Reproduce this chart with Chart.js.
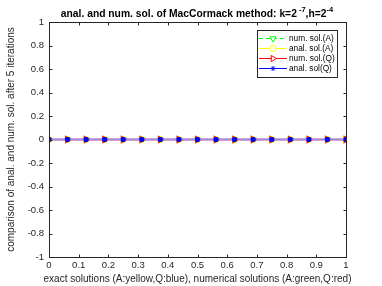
<!DOCTYPE html>
<html><head><meta charset="utf-8">
<script src="https://cdn.jsdelivr.net/npm/chart.js@4/dist/chart.umd.min.js"></script>
<style>html,body{margin:0;padding:0;background:#fff}#w{width:382px;height:286px}</style>
</head><body><div id="w"><canvas id="c" width="382" height="286"></canvas></div>
<script>
const xValues = [0, 0.0625, 0.125, 0.1875, 0.25, 0.3125, 0.375, 0.4375, 0.5, 0.5625, 0.625, 0.6875, 0.75, 0.8125, 0.875, 0.9375, 1];
const numSolA = [0,0,0,0,0,0,0,0,0,0,0,0,0,0,0,0,0];
const analSolA = [0,0,0,0,0,0,0,0,0,0,0,0,0,0,0,0,0];
const numSolQ = [0,0,0,0,0,0,0,0,0,0,0,0,0,0,0,0,0];
const analSolQ = [0,0,0,0,0,0,0,0,0,0,0,0,0,0,0,0,0];
const seriesNames = ['num. sol.(A)', 'anal. sol.(A)', 'num. sol.(Q)', 'anal. sol(Q)'];
const xTicks = [0,0.1,0.2,0.3,0.4,0.5,0.6,0.7,0.8,0.9,1];
const yTicks = [-1,-0.8,-0.6,-0.4,-0.2,0,0.2,0.4,0.6,0.8,1];
const titleText = ['anal. and num. sol. of MacCormack method: k=2', ' -7', ',h=2', '-4'];
const xTitle = 'exact solutions (A:yellow,Q:blue), numerical solutions (A:green,Q:red)';
const yTitle = 'comparison of anal. and num. sol. after 5 iterations';

const pts = arr => xValues.map((x,i)=>({x, y: arr[i]}));
const FONT = '"Liberation Sans", Arial, sans-serif';

const legendItems = [
  {name: seriesNames[0], color:'#00ff00', dash:[4,3], style:'triangle', rot:180, r:3.5, fill:false},
  {name: seriesNames[1], color:'#ffff00', dash:[], style:'circle', rot:0, r:3, fill:false},
  {name: seriesNames[2], color:'#ff0000', dash:[], style:'triangle', rot:90, r:3.5, fill:false},
  {name: seriesNames[3], color:'#0000ff', dash:[], style:'star', rot:0, r:2.5, fill:true}
];

const deco = {
  id:'deco',
  afterDraw(chart){
    const ctx = chart.ctx, a = chart.chartArea;
    const xs = chart.scales.x, ys = chart.scales.y;
    ctx.save();
    ctx.strokeStyle = '#262626'; ctx.lineWidth = 1;
    const L = Math.round(a.left)+0.5, R = Math.round(a.right)+0.5, T = Math.round(a.top)+0.5, B = Math.round(a.bottom)+0.5;
    ctx.strokeRect(L, T, R-L, B-T);
    ctx.beginPath();
    xTicks.forEach(v=>{const p=Math.round(xs.getPixelForValue(v))+0.5; ctx.moveTo(p,B); ctx.lineTo(p,B-3); ctx.moveTo(p,T); ctx.lineTo(p,T+3);});
    yTicks.forEach(v=>{const p=Math.round(ys.getPixelForValue(v))+0.5; ctx.moveTo(L,p); ctx.lineTo(L+3,p); ctx.moveTo(R,p); ctx.lineTo(R-3,p);});
    ctx.stroke();
    // title
    ctx.fillStyle = '#000';
    ctx.textBaseline = 'alphabetic';
    const fb = 'bold 10.3px '+FONT, fs = 'bold 7.5px '+FONT;
    ctx.font = fb; const w0 = ctx.measureText(titleText[0]).width, w2 = ctx.measureText(titleText[2]).width;
    ctx.font = fs; const w1 = ctx.measureText(titleText[1]).width, w3 = ctx.measureText(titleText[3]).width;
    let x = 197 - (w0+w1+w2+w3)/2; const by = 17;
    ctx.font = fb; ctx.fillText(titleText[0], x, by); x += w0;
    ctx.font = fs; ctx.fillText(titleText[1], x, by-5); x += w1;
    ctx.font = fb; ctx.fillText(titleText[2], x, by); x += w2;
    ctx.font = fs; ctx.fillText(titleText[3], x, by-5);
    // axis titles
    ctx.fillStyle = '#262626';
    ctx.font = '10px '+FONT; ctx.textAlign='center'; ctx.textBaseline='middle';
    ctx.fillText(xTitle, (a.left+a.right)/2, 279);
    ctx.save(); ctx.translate(11, (a.top+a.bottom)/2); ctx.rotate(-Math.PI/2);
    ctx.fillText(yTitle, 0, 0); ctx.restore();
    // legend
    const lx = 257.5, ly = 30.5, lw = 80, lh = 47;
    ctx.fillStyle='#fff'; ctx.fillRect(lx,ly,lw,lh);
    ctx.strokeStyle='#262626'; ctx.strokeRect(lx,ly,lw,lh);
    ctx.textAlign='left'; ctx.textBaseline='middle'; ctx.font='8.3px '+FONT;
    legendItems.forEach((it,i)=>{
      const yy = 38.5 + i*10;
      ctx.strokeStyle = it.color; ctx.setLineDash(it.dash); ctx.lineWidth=1;
      ctx.beginPath(); ctx.moveTo(259,yy); ctx.lineTo(287,yy); ctx.stroke();
      ctx.setLineDash([]);
      ctx.fillStyle = it.fill ? it.color : '#ffffff';
      Chart.helpers.drawPoint(ctx, {pointStyle: it.style, rotation: it.rot, radius: it.r, borderWidth:1}, 273, yy);
      ctx.fillStyle='#000'; ctx.fillText(it.name, 289, yy+0.5);
    });
    ctx.restore();
  }
};

new Chart(document.getElementById('c'), {
  type:'line',
  data:{datasets:[
    {label:seriesNames[0], data:pts(numSolA), borderColor:'#00ff00', backgroundColor:'rgba(0,0,0,0)', borderDash:[4,3], borderWidth:1, pointStyle:'triangle', rotation:180, pointRadius:3.5, pointBorderColor:'#00ff00', pointBackgroundColor:'rgba(0,0,0,0)', order:3},
    {label:seriesNames[1], data:pts(analSolA), borderColor:'#ffff00', backgroundColor:'rgba(0,0,0,0)', borderWidth:1, pointStyle:'circle', pointRadius:3, pointBorderColor:'#ffff00', pointBackgroundColor:'rgba(0,0,0,0)', order:2},
    {label:seriesNames[2], data:pts(numSolQ), borderColor:'#ff0000', backgroundColor:'rgba(0,0,0,0)', borderWidth:1.5, pointStyle:'triangle', rotation:90, pointRadius:3.5, pointBorderColor:'#ff3000', pointBackgroundColor:'rgba(255,100,0,0.7)', order:1},
    {label:seriesNames[3], data:pts(analSolQ), borderColor:'#a08ae6', backgroundColor:'rgba(0,0,0,0)', borderWidth:2, pointStyle:'rectRounded', pointRadius:1.8, pointBorderColor:'#0000ff', pointBackgroundColor:'#0000ff', order:0}
  ]},
  options:{
    responsive:false, animation:false, events:[],
    layout:{padding:{top:22,left:0,right:36,bottom:0}},
    plugins:{legend:{display:false}, tooltip:{enabled:false}, title:{display:false}},
    scales:{
      x:{type:'linear', min:0, max:1, grid:{display:false, drawTicks:false}, border:{display:false},
         afterBuildTicks:s=>{s.ticks = xTicks.map(v=>({value:v}));},
         afterFit:s=>{s.height = 29;},
         ticks:{color:'#262626', font:{family:FONT,size:9.5}, padding:3, maxRotation:0, autoSkip:false, callback:v=>String(parseFloat(v.toFixed(2)))}},
      y:{type:'linear', min:-1, max:1, grid:{display:false, drawTicks:false}, border:{display:false},
         afterBuildTicks:s=>{s.ticks = yTicks.map(v=>({value:v}));},
         afterFit:s=>{s.width = 49;},
         ticks:{color:'#262626', font:{family:FONT,size:9.5}, padding:5, autoSkip:false, callback:v=>String(parseFloat(v.toFixed(2)))}}
    }
  },
  plugins:[deco]
});
</script></body></html>
